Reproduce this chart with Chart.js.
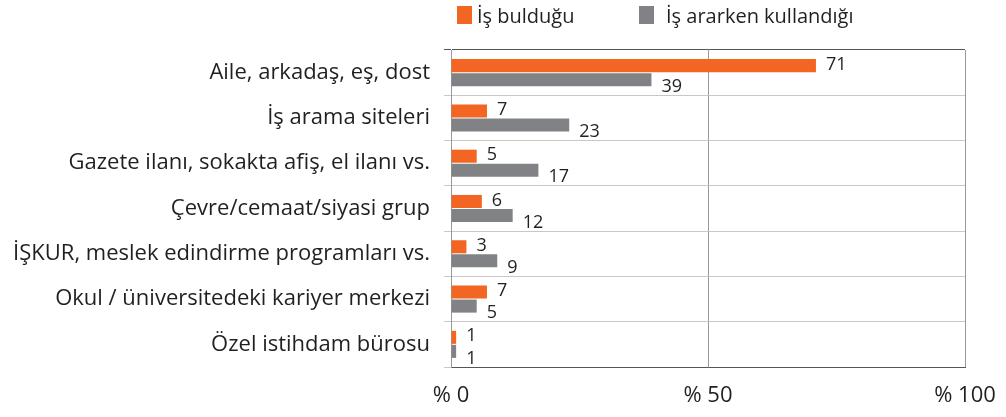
<!DOCTYPE html>
<html>
<head>
<meta charset="utf-8">
<script src="https://cdn.jsdelivr.net/npm/chart.js@4/dist/chart.umd.min.js"></script>
<style>
    body { margin: 0; background: #fff; }
    #wrap { position: relative; width: 1006px; height: 417px; }
    #legend { position: absolute; left: 457px; top: 2px; display: flex; font-family: "Open Sans", sans-serif; font-size: 20px; color: #231f20; }
    .item { display: flex; align-items: center; height: 26px; }
    .item:first-child { width: 182px; }
    .box { width: 15px; height: 18px; margin-right: 5px; }
    .item:nth-child(2) .box { margin-right: 12px; }
</style>
</head>
<body>
<div id="wrap">
    <canvas id="chart" width="1006" height="417"></canvas>
    <div id="legend"></div>
</div>
<script>
// Chart data
const categories = [
    'Aile, arkadaş, eş, dost',
    'İş arama siteleri',
    'Gazete ilanı, sokakta afiş, el ilanı vs.',
    'Çevre/cemaat/siyasi grup',
    'İŞKUR, meslek edindirme programları vs.',
    'Okul / üniversitedeki kariyer merkezi',
    'Özel istihdam bürosu'
];
const foundJob = [71, 7, 5, 6, 3, 7, 1];
const usedWhileSearching = [39, 23, 17, 12, 9, 5, 1];
const seriesNames = ['İş bulduğu', 'İş ararken kullandığı'];
const seriesColors = ['#f26522', '#808285'];
const xTicks = [0, 50, 100];

const textColor = '#231f20';
const fontFamily = '"Open Sans", sans-serif';

// Value labels next to each bar
const valueLabels = {
    id: 'valueLabels',
    afterDatasetsDraw(chart) {
        const ctx = chart.ctx;
        ctx.save();
        ctx.font = '18px ' + fontFamily;
        ctx.fillStyle = textColor;
        ctx.textAlign = 'left';
        ctx.textBaseline = 'middle';
        chart.data.datasets.forEach((ds, i) => {
            const meta = chart.getDatasetMeta(i);
            meta.data.forEach((bar, j) => {
                const dy = i === 0 ? -1 : 7;
                ctx.fillText(ds.data[j], bar.x + 10, bar.y + dy);
            });
        });
        ctx.restore();
    }
};

const chart = new Chart(document.getElementById('chart'), {
    type: 'bar',
    data: {
        labels: categories,
        datasets: [
            { label: seriesNames[0], data: foundJob, backgroundColor: seriesColors[0] },
            { label: seriesNames[1], data: usedWhileSearching, backgroundColor: seriesColors[1] }
        ]
    },
    options: {
        indexAxis: 'y',
        responsive: false,
        animation: false,
        categoryPercentage: 0.62,
        barPercentage: 0.93,
        layout: { padding: { top: 50, left: 0, right: 0, bottom: 0 } },
        plugins: {
            legend: { display: false },
            tooltip: { enabled: false }
        },
        scales: {
            x: {
                min: 0,
                max: 100,
                afterBuildTicks: scale => { scale.ticks = xTicks.map(v => ({ value: v })); },
                afterFit: scale => { scale.height = 50; scale.paddingRight = 41; },
                grid: { color: '#999', drawTicks: false },
                border: { color: '#555' },
                ticks: {
                    padding: 16,
                    color: textColor,
                    font: { family: fontFamily, size: 22 },
                    callback: v => '% ' + v
                }
            },
            y: {
                afterFit: scale => { scale.width = 451; },
                grid: {
                    offset: true,
                    tickLength: 7,
                    color: c => (c.index === 0 || c.index === categories.length) ? '#555' : '#c8c8c8'
                },
                border: { color: '#999' },
                ticks: {
                    padding: 14,
                    color: textColor,
                    font: { family: fontFamily, size: 22 }
                }
            }
        }
    },
    plugins: [valueLabels]
});

// HTML legend built from the datasets
document.getElementById('legend').innerHTML = chart.data.datasets.map(ds =>
    `<div class="item"><span class="box" style="background:${ds.backgroundColor}"></span><span>${ds.label}</span></div>`
).join('');
</script>
</body>
</html>
